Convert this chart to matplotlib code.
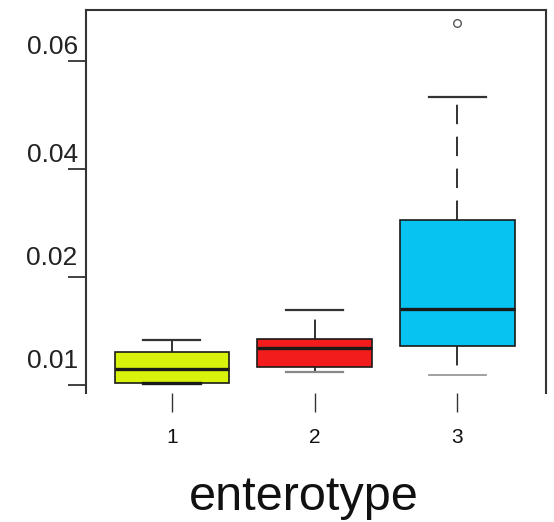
import numpy as np
import matplotlib
matplotlib.use("Agg")
import matplotlib.pyplot as plt
from matplotlib.transforms import ScaledTranslation

plt.rcParams['font.family'] = ['Liberation Sans', 'DejaVu Sans']
plt.rcParams['lines.scale_dashes'] = False

# ---- data ----
groups = ["1", "2", "3"]
whislo = [0.0102, 0.0112, 0.0109]
q1     = [0.0102, 0.0117, 0.0136]
med    = [0.0115, 0.0134, 0.0170]
q3     = [0.0131, 0.0143, 0.0306]
whishi = [0.0142, 0.0169, 0.0533]
fliers = [[], [], [0.0670]]
colors = ["#d9f20b", "#f21c1c", "#06c3f2"]

ytick_vals = [0.01, 0.02, 0.04, 0.06]
ytick_labels = ["0.01", "0.02", "0.04", "0.06"]
ytick_pos = [0.0, 1.0, 2.0, 3.0]

# piecewise-linear axis (equal spacing between labelled ticks), with extrapolation
def fwd(v):
    v = np.asarray(v, dtype=float)
    out = np.interp(v, ytick_vals, ytick_pos)
    lo = v < ytick_vals[0]
    hi = v > ytick_vals[-1]
    s_lo = (ytick_pos[1] - ytick_pos[0]) / (ytick_vals[1] - ytick_vals[0])
    s_hi = (ytick_pos[-1] - ytick_pos[-2]) / (ytick_vals[-1] - ytick_vals[-2])
    out = np.where(lo, ytick_pos[0] + (v - ytick_vals[0]) * s_lo, out)
    out = np.where(hi, ytick_pos[-1] + (v - ytick_vals[-1]) * s_hi, out)
    return out

def inv(u):
    u = np.asarray(u, dtype=float)
    out = np.interp(u, ytick_pos, ytick_vals)
    lo = u < ytick_pos[0]
    hi = u > ytick_pos[-1]
    s_lo = (ytick_vals[1] - ytick_vals[0]) / (ytick_pos[1] - ytick_pos[0])
    s_hi = (ytick_vals[-1] - ytick_vals[-2]) / (ytick_pos[-1] - ytick_pos[-2])
    out = np.where(lo, ytick_vals[0] + (u - ytick_pos[0]) * s_lo, out)
    out = np.where(hi, ytick_vals[-1] + (u - ytick_pos[-1]) * s_hi, out)
    return out

fig = plt.figure(figsize=(5.54, 5.22), dpi=100)
ax = fig.add_axes([86/554, 1 - 393/522, 460/554, 383/522])
ax.set_yscale('function', functions=(fwd, inv))

stats = []
for i in range(len(groups)):
    stats.append(dict(whislo=whislo[i], q1=q1[i], med=med[i], q3=q3[i],
                      whishi=whishi[i], fliers=fliers[i], label=groups[i]))

bp = ax.bxp(stats, positions=[1, 2, 3], widths=0.8, patch_artist=True,
            showfliers=True,
            boxprops=dict(edgecolor="#1a1a1a", linewidth=1.2),
            medianprops=dict(color="#1a1a1a", linewidth=2.4),
            whiskerprops=dict(color="#222222", linewidth=1.3, linestyle=(0, (14, 9))),
            capprops=dict(color="#333333", linewidth=1.6),
            capwidths=0.4,
            flierprops=dict(marker='o', markerfacecolor='none',
                            markeredgecolor='#555555', markersize=5.5,
                            markeredgewidth=1.0))
for patch, c in zip(bp['boxes'], colors):
    patch.set_facecolor(c)
for cap in bp['caps']:
    cap.set_zorder(5)
# lower caps: first one dark and thick, others lighter
caps = bp['caps']
caps[0].set_linewidth(2.4)
caps[0].set_color("#1a1a1a")
caps[2].set_color("#888888")
caps[4].set_color("#999999")
caps[4].set_linewidth(1.3)

ax.set_xlim(0.40, 3.62)
ax.set_ylim(0.00926, 0.0694)

ax.set_yticks(ytick_vals)
ax.set_yticklabels(ytick_labels)
ax.yaxis.set_minor_locator(matplotlib.ticker.NullLocator())
ax.set_xticks([1, 2, 3])
ax.set_xticklabels(groups)

ax.tick_params(axis='y', length=13, width=1.3, color="#333333",
               labelsize=19, pad=-7, labelcolor="#222222")
ax.tick_params(axis='x', length=14, width=1.0, color="#333333",
               labelsize=15, pad=11, labelcolor="#111111")

offsets = [27, 21, 16, 16]
for lab, off in zip(ax.get_yticklabels(), offsets):
    lab.set_transform(lab.get_transform() +
                      ScaledTranslation(0, off / 100, fig.dpi_scale_trans))

for side in ['left', 'top', 'right']:
    ax.spines[side].set_linewidth(1.5)
    ax.spines[side].set_color("#333333")
ax.spines['bottom'].set_visible(False)

fig.text(304/554, 1 - 510/522, "enterotype", fontsize=35, ha='center',
         va='baseline', color="#111111")

fig.savefig("out.png", dpi=100)
